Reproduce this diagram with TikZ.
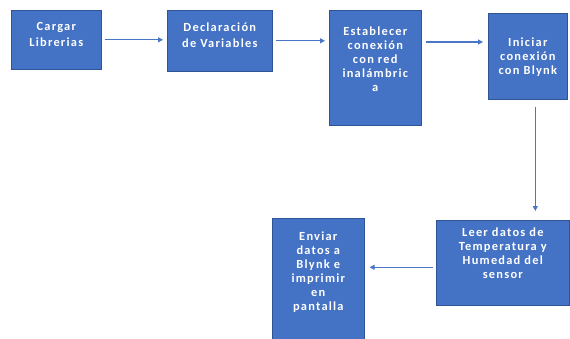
\documentclass[tikz,border=0pt]{standalone}
\usepackage{fontspec}
\setmainfont{Carlito}[LetterSpace=10]
\usetikzlibrary{arrows.meta}
\definecolor{boxblue}{HTML}{4472C4}
\definecolor{boxedge}{HTML}{2F5597}
\definecolor{arrowblue}{HTML}{4A76C6}
\newcommand{\mybx}[4]{\begin{minipage}[c][#2][t]{#1}\centering\rule{0pt}{#3}#4\end{minipage}}
\begin{document}
\begin{tikzpicture}[x=1pt,y=1pt,
  bx/.style={draw=boxedge, line width=0.6pt, fill=boxblue, text=white, inner sep=0pt, anchor=north west,
    font=\bfseries\fontsize{12.4}{14}\selectfont},
  conn/.style={draw=arrowblue, line width=1.1pt, -{Triangle[length=5pt,width=5pt]}}]
\useasboundingbox[fill=white] (0,0) rectangle (570,-338);
\node[bx] (b1) at (11,-10) {\mybx{90pt}{59pt}{20pt}{Cargar\\[2pt]Librerias}};
\node[bx] (b2) at (167,-10) {\mybx{105pt}{61pt}{21pt}{Declaración\\[2pt]de Variables}};
\node[bx] (b3) at (329,-10) {\mybx{92pt}{115pt}{25pt}{Establecer\\conexión\\con red\\inalámbric\\a}};
\node[bx] (b4) at (488,-13) {\mybx{79pt}{86pt}{33pt}{Iniciar\\conexión\\con Blynk}};
\node[bx] (b5) at (436,-220) {\mybx{133pt}{85pt}{16pt}{Leer datos de\\Temperatura y\\Humedad del\\sensor}};
\node[bx] (b6) at (272,-218) {\mybx{92pt}{125pt}{22pt}{Enviar\\datos a\\Blynk e\\imprimir\\en\\pantalla}};
\draw[conn, shorten <=3pt, shorten >=4pt] (b1.east) -- (b2.west |- b1.east);
\draw[conn, shorten <=3pt, shorten >=4pt] (b2.east) -- (b3.west |- b2.east);
\coordinate (c3) at ([yshift=-32pt]b3.north east);
\draw[conn, shorten <=4pt, shorten >=5pt] (c3) -- (b4.west |- c3);
\coordinate (c4) at ([xshift=7.5pt]b4.south);
\draw[conn, shorten <=7pt, shorten >=9pt] (c4) -- (b5.north -| c4);
\coordinate (c5) at ([yshift=-4.5pt]b5.west);
\draw[conn, shorten <=3pt, shorten >=5pt] (c5) -- (b6.east |- c5);
\end{tikzpicture}
\end{document}
